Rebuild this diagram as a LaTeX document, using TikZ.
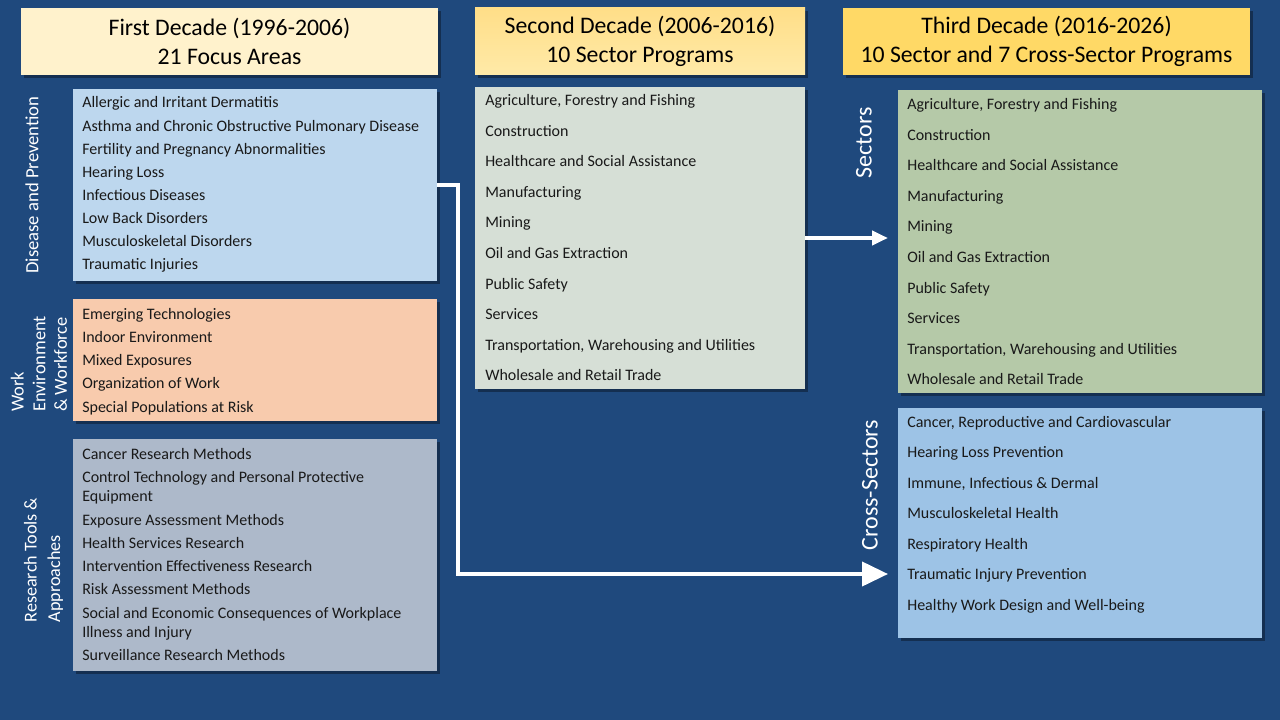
\documentclass[tikz,border=0pt]{standalone}
\usepackage{fontspec}
\setmainfont{Carlito}
\usetikzlibrary{arrows.meta,shadows}
\definecolor{bgblue}{RGB}{31,73,125}
\definecolor{hdrA}{RGB}{255,242,204}
\definecolor{hdrBtop}{RGB}{255,222,136}
\definecolor{hdrBbot}{RGB}{255,234,168}
\definecolor{hdrC}{RGB}{255,217,102}
\definecolor{boxAc}{RGB}{189,215,238}
\definecolor{boxBc}{RGB}{248,203,173}
\definecolor{boxCc}{RGB}{173,185,202}
\definecolor{midc}{RGB}{214,223,214}
\definecolor{greenc}{RGB}{181,201,168}
\definecolor{blueRc}{RGB}{157,195,230}
\definecolor{itemtext}{RGB}{25,25,25}
\tikzset{
  panel/.style={rectangle, inner sep=0pt, draw=none,
    drop shadow={shadow xshift=2pt, shadow yshift=-2pt, opacity=0.35, fill=black}},
  header/.style={panel, align=center, text=black,
    font=\fontsize{17.8}{21.75}\selectfont, minimum height=50.25pt},
  item/.style={anchor=base west, inner sep=0pt, text=itemtext,
    font=\fontsize{12}{14.25}\selectfont, align=left},
  sidelabel/.style={rotate=90, inner sep=0pt, text=white, align=left},
  flow/.style={draw=white, line width=3pt}
}
\begin{document}
\begin{tikzpicture}[x=0.75pt,y=-0.75pt]
\fill[bgblue] (0,0) rectangle (1280,720);
\useasboundingbox (0,0) rectangle (1280,720);

% headers
\node[header, fill=hdrA, minimum width=312.75pt] (h1) at (229.5,41.5)
  {First Decade (1996-2006)\\21 Focus Areas};
\node[header, top color=hdrBtop, bottom color=hdrBbot, minimum width=247.5pt] (h2) at (640,41.5)
  {Second Decade (2006-2016)\\10 Sector Programs};
\node[header, fill=hdrC, minimum width=305.25pt] (h3) at (1046.5,41.5)
  {Third Decade (2016-2026)\\10 Sector and 7 Cross-Sector Programs};

% boxes
\node[panel, fill=boxAc, minimum width=273pt, minimum height=144pt] (boxA) at (255,185) {};
\node[panel, fill=boxBc, minimum width=273pt, minimum height=91.5pt] (boxB) at (255,360) {};
\node[panel, fill=boxCc, minimum width=273pt, minimum height=174pt] (boxC) at (255,555) {};
\node[panel, fill=midc, minimum width=247.5pt, minimum height=226.5pt] (mid) at (640,238) {};
\node[panel, fill=greenc, minimum width=273pt, minimum height=227.25pt] (sec) at (1080,241.5) {};
\node[panel, fill=blueRc, minimum width=273pt, minimum height=172.5pt] (xsec) at (1080,523) {};

% side labels
\node[sidelabel, font=\fontsize{14}{16}\selectfont] (lA) at (32,185) {Disease and Prevention};
\node[sidelabel, font=\fontsize{13.8}{16.2}\selectfont] (lB) at (39,364) {Work\\Environment\\\& Workforce};
\node[sidelabel, font=\fontsize{13.6}{17.5}\selectfont] (lC) at (43.5,560) {Research Tools \&\\Approaches};
\node[sidelabel, font=\fontsize{18}{20}\selectfont] (lS) at (864,143) {Sectors};
\node[sidelabel, font=\fontsize{18}{20}\selectfont] (lX) at (870,485) {Cross-Sectors};

% first decade items
\foreach \t [count=\i] in {Allergic and Irritant Dermatitis,
  Asthma and Chronic Obstructive Pulmonary\ Disease,
  Fertility and Pregnancy Abnormalities, Hearing Loss, Infectious Diseases,
  Low Back Disorders, Musculoskeletal Disorders, Traumatic Injuries}
  \node[item] (a\i) at (82,{108+(\i-1)*23.14}) {\t};
\foreach \t [count=\i] in {Emerging Technologies, Indoor\ Environment, Mixed Exposures,
  Organization of Work, Special Populations at Risk}
  \node[item] (b\i) at (82,{319+(\i-1)*23.25}) {\t};
\node[item] (c1) at (82,459) {Cancer Research Methods};
\node[item] (c2) at (82,501) {Control\ Technology and Personal Protective\\Equipment};
\node[item] (c3) at (82,525) {Exposure Assessment Methods};
\node[item] (c4) at (82,548) {Health Services Research};
\node[item] (c5) at (82,571) {Intervention\ Effectiveness Research};
\node[item] (c6) at (82,594) {Risk Assessment Methods};
\node[item] (c7) at (82,637) {Social and Economic\ Consequences of Workplace\\Illness and Injury};
\node[item] (c8) at (82,660) {Surveillance Research Methods};

% second decade items
\foreach \t [count=\i] in {{Agriculture, Forestry and Fishing}, Construction,
  Healthcare and Social Assistance, Manufacturing, Mining, Oil and Gas Extraction,
  Public Safety, Services, {Transportation,\ Warehousing and Utilities},
  Wholesale and Retail Trade}
  \node[item] (m\i) at (485,{106+(\i-1)*30.5}) {\t};

% third decade sectors
\foreach \t [count=\i] in {{Agriculture, Forestry and Fishing}, Construction,
  Healthcare and Social Assistance, Manufacturing, Mining, Oil and Gas Extraction,
  Public Safety, Services, {Transportation,\ Warehousing and Utilities},
  Wholesale and Retail Trade}
  \node[item] (s\i) at (907,{110+(\i-1)*30.5}) {\t};

% third decade cross-sectors
\foreach \t [count=\i] in {{Cancer, Reproductive\ and Cardiovascular}, Hearing Loss Prevention,
  {Immune,\ Infectious \& Dermal}, Musculoskeletal Health, Respiratory Health,
  Traumatic Injury Prevention, Healthy Work\ Design and Well-being}
  \node[item] (x\i) at (907,{427+(\i-1)*30.5}) {\t};

% arrows
\coordinate (t1) at (888,574);
\coordinate (t2) at (888,238);
\draw[flow, -{Triangle[length=19.5pt,width=18pt]}] (boxA.east) -- ++(21,0) |- (t1);
\draw[flow, -{Triangle[length=12pt,width=10.5pt]}] (mid.east) -- (t2);
\end{tikzpicture}
\end{document}
